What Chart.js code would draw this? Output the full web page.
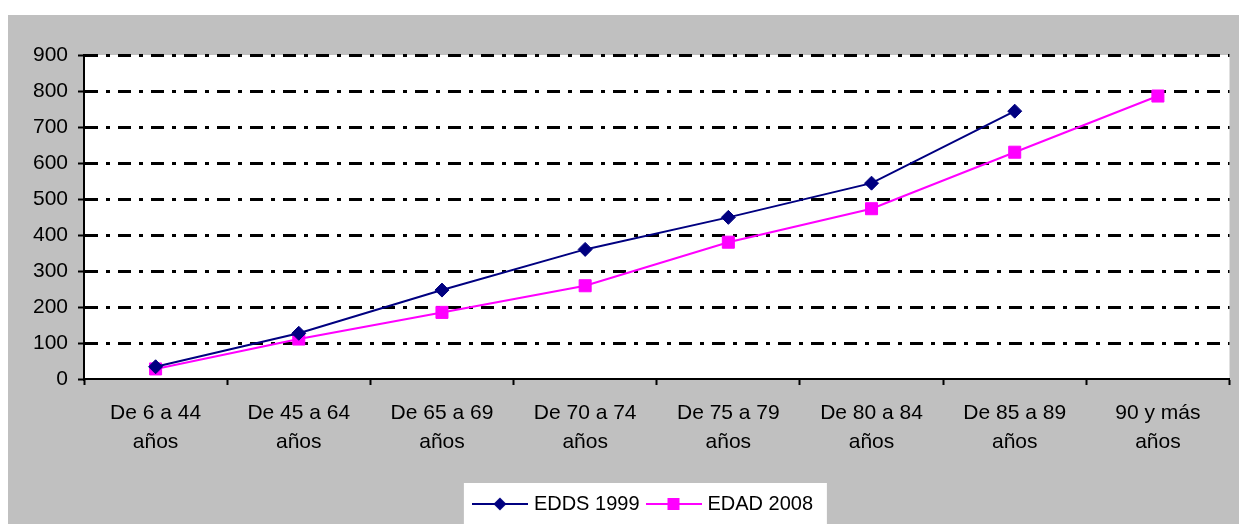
<!DOCTYPE html>
<html>
<head>
<meta charset="utf-8">
<script src="https://cdn.jsdelivr.net/npm/chart.js@4"></script>
<style>
  html, body { margin: 0; padding: 0; background: #fff; overflow: hidden; }
  #wrap { position: absolute; left: 8px; top: 15px; width: 1231px; height: 509px; background: #c0c0c0; }
</style>
</head>
<body>
<div id="wrap"><canvas id="lineChart" width="1231" height="509"></canvas></div>
<script>
// data
var categories = [
    ['De 6 a 44', 'años'],
    ['De 45 a 64', 'años'],
    ['De 65 a 69', 'años'],
    ['De 70 a 74', 'años'],
    ['De 75 a 79', 'años'],
    ['De 80 a 84', 'años'],
    ['De 85 a 89', 'años'],
    ['90 y más', 'años']
];
var edds1999 = [34, 127, 247, 360, 449, 544, 744, null];
var edad2008 = [28, 111, 185, 259, 380, 473, 630, 786];
var yTicks = [0, 100, 200, 300, 400, 500, 600, 700, 800, 900];

var NAVY = '#000080';
var MAGENTA = '#ff00ff';
var FONT = '"Liberation Sans", Arial, sans-serif';

// little line+marker images for the legend
function legendImage(color, shape) {
    var c = document.createElement('canvas');
    c.width = 56;
    c.height = 16;
    var g = c.getContext('2d');
    g.strokeStyle = color;
    g.lineWidth = 2;
    g.beginPath();
    g.moveTo(0, 8);
    g.lineTo(56, 8);
    g.stroke();
    g.fillStyle = color;
    if (shape == 'diamond') {
        g.beginPath();
        g.moveTo(28, 1.5);
        g.lineTo(34.5, 8);
        g.lineTo(28, 14.5);
        g.lineTo(21.5, 8);
        g.closePath();
        g.fill();
    } else {
        g.fillRect(22, 2, 12, 12);
    }
    return c;
}
var legendImgs = [legendImage(NAVY, 'diamond'), legendImage(MAGENTA, 'square')];

var chartLook = {
    id: 'chartLook',
    beforeDraw: function(chart) {
        var a = chart.chartArea;
        var ctx = chart.ctx;
        ctx.save();
        ctx.fillStyle = '#ffffff';
        ctx.fillRect(a.left, a.top, a.right - a.left, a.bottom - a.top);
        // white box behind the legend
        var lg = chart.legend;
        var x0 = (lg.left + lg.right + 10 - lg.lineWidths[0]) / 2;
        ctx.fillRect(x0 - 12, lg.top - 1, 363, lg.bottom - lg.top + 10);
        ctx.restore();
    },
    afterLayout: function(chart) {
        // legend sits a little right of centre in the reference
        chart.legend.left += 25;
        chart.legend.right += 25;
    }
};

var ctx = document.getElementById('lineChart').getContext('2d');

var lineChart = new Chart(ctx, {
    type: 'line',
    data: {
        labels: categories,
        datasets: [{
            label: 'EDDS 1999',
            data: edds1999,
            borderColor: NAVY,
            backgroundColor: NAVY,
            borderWidth: 2,
            pointStyle: 'rectRot',
            pointRadius: 7,
            pointBorderWidth: 1,
            pointBackgroundColor: NAVY,
            pointBorderColor: NAVY,
            tension: 0,
            spanGaps: false
        }, {
            label: 'EDAD 2008',
            data: edad2008,
            borderColor: MAGENTA,
            backgroundColor: MAGENTA,
            borderWidth: 2,
            pointStyle: 'rect',
            pointRadius: 8.5,
            pointBorderWidth: 1,
            pointBackgroundColor: MAGENTA,
            pointBorderColor: MAGENTA,
            tension: 0
        }]
    },
    options: {
        responsive: false,
        animation: false,
        layout: { padding: { top: 40, right: 8, left: 0, bottom: 0 } },
        scales: {
            x: {
                type: 'category',
                offset: true,
                grid: {
                    offset: true,
                    drawOnChartArea: false,
                    tickLength: 6,
                    tickColor: '#000',
                    tickWidth: 2
                },
                border: { color: '#000', width: 2 },
                ticks: {
                    color: '#000',
                    maxRotation: 0,
                    autoSkip: false,
                    padding: 14,
                    font: { family: FONT, size: 21, lineHeight: 1.38 }
                },
                afterFit: function(scale) { scale.height = 105; }
            },
            y: {
                min: 0,
                max: 900,
                afterBuildTicks: function(scale) {
                    scale.ticks = yTicks.map(function(v) { return { value: v }; });
                },
                grid: {
                    color: function(c) { return c.tick && c.tick.value === 0 ? 'rgba(0,0,0,0)' : '#000'; },
                    lineWidth: 3,
                    tickLength: 6,
                    tickColor: '#000',
                    tickWidth: 2,
                    tickBorderDash: []
                },
                // in v4 border.dash is what dashes the grid lines
                border: { color: '#000', width: 2, dash: [13, 8, 4, 8] },
                ticks: {
                    color: '#000',
                    padding: 10,
                    font: { family: FONT, size: 21 }
                },
                afterFit: function(scale) { scale.width = 76; }
            }
        },
        plugins: {
            legend: {
                position: 'bottom',
                labels: {
                    color: '#000',
                    font: { family: FONT, size: 20 },
                    usePointStyle: true,
                    pointStyleWidth: 48,
                    generateLabels: function(chart) {
                        var items = Chart.defaults.plugins.legend.labels.generateLabels(chart);
                        return items.map(function(it, i) {
                            it.pointStyle = legendImgs[i];
                            return it;
                        });
                    }
                }
            },
            tooltip: { enabled: false }
        }
    },
    plugins: [chartLook]
});
</script>
</body>
</html>
